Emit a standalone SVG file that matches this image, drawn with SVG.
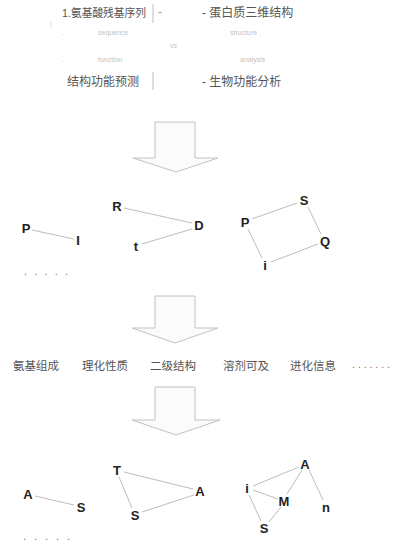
<svg xmlns="http://www.w3.org/2000/svg" width="394" height="546" viewBox="0 0 394 546">
<style>
text{font-family:"Liberation Sans","Noto Sans CJK SC",sans-serif}
.t{font-size:12px;fill:#555}
.r{font-size:11.5px;fill:#555}
.s{font-size:7px;fill:#c4c4c4}
.n{font-size:13px;font-weight:bold;fill:#222;text-anchor:middle;dominant-baseline:central}
.e{stroke:#bdbdbd;stroke-width:1;fill:none}
.a{fill:#fbfbfb;stroke:#c2c2c2;stroke-width:1}
.d{font-size:11px;fill:#777}
</style>
<rect width="394" height="546" fill="#fff"/>
<g id="header">
<text class="r" x="62" y="17" textLength="84" lengthAdjust="spacingAndGlyphs">1.氨基酸残基序列</text>
<line class="e" x1="153" y1="4" x2="153" y2="23"/>
<text class="t" x="158" y="16" style="fill:#999">-</text>
<text class="t" x="202" y="17">- 蛋白质三维结构</text>
<text class="s" x="50" y="27">\</text>
<text class="s" x="62" y="35">.</text>
<text class="s" x="98" y="35">sequence</text>
<text class="s" x="230" y="35">structure .</text>
<text class="s" x="170" y="48">vs</text>
<text class="s" x="62" y="62">.</text>
<text class="s" x="98" y="62">function</text>
<text class="s" x="240" y="62">analysis</text>
<text class="t" x="67" y="86">结构功能预测</text>
<line class="e" x1="153" y1="72" x2="153" y2="90"/>
<text class="t" x="202" y="86">- 生物功能分析</text>
</g>
<g id="arrow1"><path class="a" d="M155,122 L195,122 L195,158 L218,158 L176,172 L133,158 L155,158 Z"/></g>
<g id="arrow2"><path class="a" d="M155,296 L195,296 L195,328 L218,328 L175,343 L132,328 L155,328 Z"/></g>
<g id="arrow3"><path class="a" d="M155,387 L195,387 L195,420 L220,420 L176,435 L132,420 L155,420 Z"/></g>
<g id="connectors">
<line class="e" x1="32" y1="230" x2="74" y2="239"/>
<line class="e" x1="124" y1="208" x2="192" y2="223"/>
<line class="e" x1="192" y1="229" x2="142" y2="244"/>
<line class="e" x1="252" y1="219" x2="297" y2="203"/>
<line class="e" x1="308" y1="207" x2="321" y2="234"/>
<line class="e" x1="248" y1="229" x2="262" y2="258"/>
<line class="e" x1="271" y1="262" x2="318" y2="244"/>
<line class="e" x1="35" y1="496" x2="74" y2="505"/>
<line class="e" x1="124" y1="472" x2="193" y2="489"/>
<line class="e" x1="119" y1="477" x2="132" y2="508"/>
<line class="e" x1="142" y1="512" x2="194" y2="495"/>
<line class="e" x1="299" y1="467" x2="253" y2="486"/>
<line class="e" x1="302" y1="470" x2="287" y2="494"/>
<line class="e" x1="309" y1="470" x2="323" y2="500"/>
<line class="e" x1="253" y1="490" x2="278" y2="499"/>
<line class="e" x1="249" y1="495" x2="261" y2="521"/>
<line class="e" x1="269" y1="522" x2="281" y2="507"/>
</g>
<g id="g1-P"><text class="n" x="26" y="228">P</text></g>
<g id="g1-I"><text class="n" x="78" y="240">I</text></g>
<g id="g1-more"><text class="d" x="24" y="275" textLength="44">.....</text></g>
<g id="g2-R"><text class="n" x="117" y="206">R</text></g>
<g id="g2-D"><text class="n" x="199" y="225">D</text></g>
<g id="g2-t"><text class="n" x="136" y="246">t</text></g>
<g id="g3-P"><text class="n" x="245" y="222">P</text></g>
<g id="g3-S"><text class="n" x="304" y="200">S</text></g>
<g id="g3-Q"><text class="n" x="325" y="241">Q</text></g>
<g id="g3-i"><text class="n" x="265" y="265">i</text></g>
<g id="row">
<text class="r" x="13" y="370">氨基组成</text>
<text class="r" x="82" y="370">理化性质</text>
<text class="r" x="150" y="370">二级结构</text>
<text class="r" x="223" y="370">溶剂可及</text>
<text class="r" x="290" y="370">进化信息</text>
<text class="d" x="352" y="368" textLength="38">.......</text>
</g>
<g id="h1-A"><text class="n" x="28" y="494">A</text></g>
<g id="h1-S"><text class="n" x="81" y="507">S</text></g>
<g id="h1-more"><text class="d" x="23" y="540" textLength="47">.....</text></g>
<g id="h2-T"><text class="n" x="117" y="470">T</text></g>
<g id="h2-A"><text class="n" x="200" y="491">A</text></g>
<g id="h2-S"><text class="n" x="135" y="515">S</text></g>
<g id="h3-A"><text class="n" x="305" y="464">A</text></g>
<g id="h3-i"><text class="n" x="247" y="488">i</text></g>
<g id="h3-M"><text class="n" x="284" y="501">M</text></g>
<g id="h3-S"><text class="n" x="264" y="528">S</text></g>
<g id="h3-n"><text class="n" x="326" y="507">n</text></g>
</svg>
